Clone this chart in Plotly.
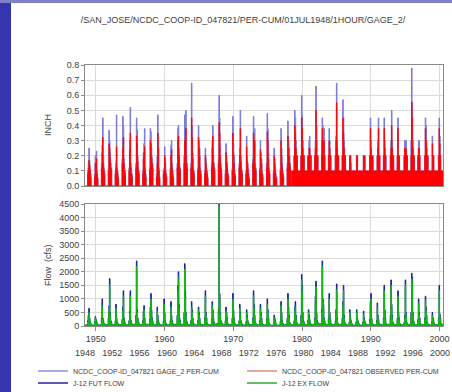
import plotly.graph_objects as go

# ---------------- data ----------------
water_years = list(range(1949, 2001))                     # Jul(N-1) .. Jun(N)
wet_months = ["Nov", "Dec", "Jan", "Feb", "Mar", "Apr"]   # months with values per water year

# NCDC_COOP-ID_047821 GAGE_2 PER-CUM (inch), [Nov..Apr] per water year
gage2_per_cum = [
    [0.10, 0.15, 0.25, 0.17, 0.12, 0.08], [0.08, 0.20, 0.12, 0.23, 0.10, 0.06], [0.15, 0.27, 0.45, 0.20, 0.12, 0.10],
    [0.12, 0.37, 0.30, 0.22, 0.15, 0.12], [0.10, 0.15, 0.47, 0.12, 0.10, 0.06], [0.18, 0.46, 0.40, 0.18, 0.12, 0.10],
    [0.12, 0.30, 0.52, 0.15, 0.10, 0.08], [0.15, 0.45, 0.37, 0.20, 0.12, 0.10], [0.10, 0.22, 0.28, 0.38, 0.12, 0.08],
    [0.12, 0.38, 0.36, 0.25, 0.18, 0.15], [0.08, 0.20, 0.47, 0.33, 0.12, 0.06], [0.10, 0.12, 0.26, 0.18, 0.10, 0.08],
    [0.12, 0.27, 0.30, 0.15, 0.10, 0.06], [0.15, 0.38, 0.40, 0.25, 0.15, 0.12], [0.20, 0.47, 0.35, 0.50, 0.20, 0.15],
    [0.15, 0.68, 0.40, 0.22, 0.12, 0.10], [0.12, 0.40, 0.30, 0.25, 0.12, 0.10], [0.10, 0.25, 0.18, 0.12, 0.10, 0.06],
    [0.15, 0.30, 0.40, 0.20, 0.15, 0.12], [0.18, 0.60, 0.45, 0.25, 0.15, 0.10], [0.10, 0.28, 0.20, 0.15, 0.10, 0.08],
    [0.12, 0.46, 0.28, 0.20, 0.10, 0.08], [0.15, 0.25, 0.50, 0.20, 0.12, 0.10], [0.10, 0.33, 0.20, 0.15, 0.10, 0.06],
    [0.18, 0.46, 0.38, 0.38, 0.15, 0.12], [0.12, 0.30, 0.22, 0.18, 0.10, 0.08], [0.15, 0.48, 0.38, 0.22, 0.12, 0.10],
    [0.10, 0.25, 0.18, 0.12, 0.08, 0.06], [0.12, 0.38, 0.25, 0.15, 0.10, 0.08], [0.15, 0.43, 0.30, 0.25, 0.20, 0.15],
    [0.20, 0.50, 0.45, 0.30, 0.20, 0.20], [0.20, 0.60, 0.47, 0.30, 0.20, 0.20], [0.20, 0.20, 0.30, 0.33, 0.20, 0.20],
    [0.20, 0.30, 0.66, 0.40, 0.20, 0.20], [0.30, 0.45, 0.40, 0.30, 0.38, 0.20], [0.20, 0.38, 0.30, 0.20, 0.20, 0.10],
    [0.20, 0.33, 0.68, 0.30, 0.20, 0.20], [0.20, 0.57, 0.45, 0.30, 0.20, 0.20], [0.10, 0.20, 0.20, 0.15, 0.10, 0.10],
    [0.10, 0.20, 0.20, 0.10, 0.10, 0.10], [0.10, 0.20, 0.15, 0.20, 0.10, 0.10], [0.20, 0.45, 0.30, 0.20, 0.10, 0.20],
    [0.10, 0.20, 0.30, 0.45, 0.20, 0.20], [0.20, 0.45, 0.30, 0.20, 0.20, 0.10], [0.20, 0.30, 0.50, 0.30, 0.20, 0.20],
    [0.20, 0.45, 0.20, 0.20, 0.10, 0.10], [0.20, 0.30, 0.20, 0.30, 0.20, 0.20], [0.30, 0.78, 0.56, 0.30, 0.20, 0.20],
    [0.20, 0.30, 0.30, 0.20, 0.10, 0.10], [0.20, 0.45, 0.40, 0.30, 0.20, 0.20], [0.10, 0.33, 0.20, 0.20, 0.10, 0.10],
    [0.20, 0.45, 0.33, 0.20, 0.10, 0.10],
]

# NCDC_COOP-ID_047821 OBSERVED PER-CUM (inch)
observed_per_cum = [
    [0.08, 0.12, 0.17, 0.14, 0.10, 0.06], [0.06, 0.15, 0.10, 0.18, 0.08, 0.05], [0.12, 0.22, 0.32, 0.15, 0.10, 0.08],
    [0.10, 0.28, 0.25, 0.18, 0.12, 0.10], [0.08, 0.12, 0.26, 0.10, 0.08, 0.05], [0.15, 0.25, 0.32, 0.15, 0.10, 0.08],
    [0.10, 0.24, 0.35, 0.12, 0.08, 0.06], [0.12, 0.33, 0.28, 0.16, 0.10, 0.08], [0.08, 0.18, 0.22, 0.26, 0.10, 0.06],
    [0.10, 0.30, 0.28, 0.20, 0.15, 0.12], [0.06, 0.15, 0.35, 0.25, 0.10, 0.05], [0.08, 0.10, 0.20, 0.15, 0.08, 0.06],
    [0.10, 0.20, 0.24, 0.12, 0.08, 0.05], [0.12, 0.30, 0.33, 0.20, 0.12, 0.10], [0.15, 0.30, 0.28, 0.38, 0.15, 0.12],
    [0.12, 0.45, 0.32, 0.18, 0.10, 0.08], [0.10, 0.32, 0.25, 0.20, 0.10, 0.08], [0.08, 0.20, 0.15, 0.10, 0.08, 0.05],
    [0.12, 0.25, 0.33, 0.16, 0.12, 0.10], [0.15, 0.42, 0.35, 0.20, 0.12, 0.08], [0.08, 0.22, 0.16, 0.12, 0.08, 0.06],
    [0.10, 0.35, 0.22, 0.15, 0.08, 0.06], [0.12, 0.20, 0.38, 0.16, 0.10, 0.08], [0.08, 0.26, 0.16, 0.12, 0.08, 0.05],
    [0.15, 0.35, 0.30, 0.30, 0.12, 0.10], [0.10, 0.24, 0.18, 0.15, 0.08, 0.06], [0.12, 0.36, 0.30, 0.18, 0.10, 0.08],
    [0.08, 0.20, 0.15, 0.10, 0.06, 0.05], [0.10, 0.30, 0.20, 0.12, 0.08, 0.06], [0.12, 0.33, 0.25, 0.20, 0.15, 0.12],
    [0.20, 0.40, 0.35, 0.25, 0.15, 0.20], [0.20, 0.45, 0.38, 0.25, 0.20, 0.20], [0.20, 0.20, 0.25, 0.25, 0.10, 0.20],
    [0.20, 0.25, 0.50, 0.30, 0.20, 0.20], [0.20, 0.38, 0.30, 0.25, 0.30, 0.20], [0.20, 0.30, 0.25, 0.20, 0.10, 0.10],
    [0.20, 0.30, 0.55, 0.25, 0.20, 0.20], [0.20, 0.45, 0.35, 0.25, 0.20, 0.20], [0.10, 0.20, 0.20, 0.10, 0.10, 0.10],
    [0.10, 0.20, 0.20, 0.10, 0.10, 0.10], [0.10, 0.20, 0.10, 0.20, 0.10, 0.10], [0.20, 0.38, 0.25, 0.20, 0.10, 0.20],
    [0.10, 0.20, 0.25, 0.38, 0.20, 0.20], [0.20, 0.38, 0.25, 0.20, 0.10, 0.10], [0.20, 0.25, 0.40, 0.25, 0.20, 0.20],
    [0.20, 0.38, 0.20, 0.20, 0.10, 0.10], [0.20, 0.25, 0.20, 0.25, 0.20, 0.20], [0.20, 0.55, 0.45, 0.25, 0.20, 0.20],
    [0.20, 0.25, 0.25, 0.20, 0.10, 0.10], [0.20, 0.38, 0.30, 0.25, 0.20, 0.20], [0.10, 0.28, 0.20, 0.20, 0.10, 0.10],
    [0.20, 0.38, 0.28, 0.20, 0.10, 0.10],
]

# value in the remaining months of each water year (inch)
dry_base_inch = [
    0.0, 0.0, 0.0, 0.0, 0.0, 0.0, 0.0, 0.0, 0.0, 0.0, 0.0, 0.0, 0.0, 0.0, 0.0, 0.0, 0.0, 0.0,
    0.0, 0.0, 0.0, 0.0, 0.0, 0.0, 0.0, 0.0, 0.0, 0.0, 0.0, 0.0, 0.1, 0.1, 0.1, 0.1, 0.1, 0.1,
    0.1, 0.1, 0.1, 0.1, 0.1, 0.1, 0.1, 0.1, 0.1, 0.1, 0.1, 0.1, 0.1, 0.1, 0.1, 0.1,
]

# J-12 FUT FLOW (cfs), [Nov..Apr] per water year
fut_flow = [
    [200, 400, 650, 300, 150, 100], [150, 350, 250, 200, 100, 80], [300, 1000, 300, 200, 100, 80],
    [300, 750, 1750, 500, 200, 150], [200, 800, 300, 150, 100, 80], [250, 700, 1300, 300, 150, 100],
    [200, 550, 1300, 200, 100, 80], [400, 2400, 600, 300, 150, 100], [200, 550, 750, 300, 100, 80],
    [250, 700, 1200, 600, 300, 200], [150, 700, 400, 200, 100, 80], [200, 1000, 500, 200, 100, 80],
    [200, 900, 400, 200, 100, 80], [400, 1500, 2000, 800, 300, 200], [500, 2300, 1300, 500, 200, 150],
    [200, 900, 600, 300, 100, 80], [200, 700, 500, 300, 100, 80], [300, 1300, 500, 300, 100, 80],
    [250, 900, 600, 300, 150, 100], [600, 4500, 1200, 500, 200, 150], [200, 700, 500, 300, 100, 80],
    [300, 1200, 600, 300, 100, 80], [200, 800, 500, 200, 100, 80], [150, 600, 400, 200, 100, 80],
    [300, 1300, 800, 400, 150, 100], [200, 800, 500, 300, 100, 80], [250, 1000, 600, 300, 100, 80],
    [100, 400, 300, 200, 100, 60], [200, 900, 500, 200, 100, 80], [300, 1200, 700, 400, 150, 100],
    [200, 700, 900, 400, 150, 100], [400, 1900, 1500, 500, 200, 150], [200, 600, 400, 250, 100, 80],
    [300, 1100, 1650, 500, 200, 150], [600, 2400, 1000, 800, 300, 200], [300, 1200, 500, 300, 100, 80],
    [200, 600, 1550, 300, 100, 80], [300, 900, 1500, 400, 150, 100], [150, 600, 300, 200, 100, 80],
    [150, 600, 300, 200, 100, 80], [150, 550, 300, 200, 100, 80], [250, 900, 1200, 300, 100, 80],
    [200, 850, 400, 250, 100, 80], [300, 1500, 600, 300, 100, 80], [400, 1700, 800, 400, 150, 100],
    [300, 1300, 500, 300, 100, 80], [150, 400, 1700, 500, 150, 100], [500, 1950, 1800, 500, 200, 150],
    [250, 1000, 500, 300, 100, 80], [300, 1100, 700, 400, 150, 100], [150, 500, 300, 200, 100, 80],
    [300, 1500, 450, 300, 100, 80],
]

# J-12 EX FLOW (cfs)
ex_flow = [
    [150, 350, 500, 250, 120, 80], [120, 300, 200, 150, 80, 60], [250, 750, 250, 150, 80, 60],
    [250, 600, 1500, 400, 150, 120], [150, 650, 250, 120, 80, 60], [200, 550, 1100, 250, 120, 80],
    [150, 450, 1100, 150, 80, 60], [300, 2200, 500, 250, 120, 80], [150, 450, 600, 250, 80, 60],
    [200, 550, 1000, 500, 250, 150], [120, 550, 300, 150, 80, 60], [150, 800, 400, 150, 80, 60],
    [150, 700, 300, 150, 80, 60], [300, 1300, 1800, 650, 250, 150], [400, 2100, 1100, 400, 150, 120],
    [150, 700, 500, 250, 80, 60], [150, 600, 400, 250, 80, 60], [250, 1100, 400, 250, 80, 60],
    [200, 750, 500, 250, 120, 80], [500, 4450, 1000, 400, 150, 120], [150, 550, 400, 250, 80, 60],
    [250, 1000, 500, 250, 80, 60], [150, 650, 400, 150, 80, 60], [120, 500, 300, 150, 80, 60],
    [250, 1100, 650, 300, 120, 80], [150, 650, 400, 250, 80, 60], [200, 800, 500, 250, 80, 60],
    [80, 300, 250, 150, 80, 50], [150, 750, 400, 150, 80, 60], [250, 1000, 550, 300, 120, 80],
    [150, 550, 700, 300, 120, 80], [300, 1700, 1300, 400, 150, 120], [150, 500, 300, 200, 80, 60],
    [250, 900, 1450, 400, 150, 120], [500, 2200, 850, 650, 250, 150], [250, 1000, 400, 250, 80, 60],
    [150, 500, 1350, 250, 80, 60], [250, 750, 1300, 300, 120, 80], [120, 500, 250, 150, 80, 60],
    [120, 500, 250, 150, 80, 60], [120, 450, 250, 150, 80, 60], [200, 750, 1000, 250, 80, 60],
    [150, 700, 300, 200, 80, 60], [250, 1300, 500, 250, 80, 60], [300, 1500, 650, 300, 120, 80],
    [250, 1100, 400, 250, 80, 60], [120, 300, 1500, 400, 120, 80], [400, 1750, 1600, 400, 150, 120],
    [200, 850, 400, 250, 80, 60], [250, 950, 550, 300, 120, 80], [120, 400, 250, 150, 80, 60],
    [250, 1300, 350, 250, 80, 60],
]

dry_base_cfs = [
    40, 30, 40, 50, 40, 50, 40, 60, 40, 60, 40, 40, 40, 60, 60, 40, 40, 50,
    40, 80, 40, 50, 40, 30, 50, 40, 40, 20, 30, 50, 40, 60, 40, 60, 80, 50,
    50, 60, 30, 30, 30, 40, 40, 50, 60, 50, 50, 60, 50, 50, 40, 50,
]

decade_ticks = [1950, 1960, 1970, 1980, 1990, 2000]
four_year_ticks = [1948, 1952, 1956, 1960, 1964, 1968, 1972, 1976, 1980, 1984, 1988, 1992, 1996, 2000]

title_text = "/SAN_JOSE/NCDC_COOP-ID_047821/PER-CUM/01JUL1948/1HOUR/GAGE_2/"
series_names = [
    "NCDC_COOP-ID_047821 GAGE_2 PER-CUM",
    "NCDC_COOP-ID_047821 OBSERVED PER-CUM",
    "J-12 FUT FLOW",
    "J-12 EX FLOW",
]


# ---------------- build monthly series ----------------
def monthly(wet_vals, base_vals):
    xs, ys = [], []
    for wy, wv, b in zip(water_years, wet_vals, base_vals):
        for m in range(12):  # Jul .. Jun
            xs.append(wy - 1 + (6 + m) / 12.0)
            k = m - 4  # Nov -> 0
            ys.append(wv[k] if 0 <= k < len(wet_months) else b)
    xs.append(water_years[-1] + 0.5)
    ys.append(ys[-1])
    return xs, ys


x_g, y_g = monthly(gage2_per_cum, dry_base_inch)
x_o, y_o = monthly(observed_per_cum, dry_base_inch)
x_f, y_f = monthly(fut_flow, dry_base_cfs)
x_e, y_e = monthly(ex_flow, dry_base_cfs)

C_LAV = "#8c8ce6"
C_RED = "#ff0000"
C_BLUE = "#1c1ca8"
C_GREEN = "#10b810"
LEG_COLORS = ["#8f8fe0", "#e08a8a", "#24249c", "#33a833"]

fig = go.Figure()

fig.add_trace(go.Scatter(x=x_g, y=y_g, mode="lines", line=dict(shape="hv", color="#7a7ada", width=1),
                         fill="tozeroy", fillcolor=C_LAV, showlegend=False, xaxis="x", yaxis="y"))
fig.add_trace(go.Scatter(x=x_o, y=y_o, mode="lines", line=dict(shape="hv", color=C_RED, width=0.8),
                         fill="tozeroy", fillcolor=C_RED, showlegend=False, xaxis="x", yaxis="y"))
fig.add_trace(go.Scatter(x=x_f, y=y_f, mode="lines", line=dict(shape="hv", color=C_BLUE, width=1),
                         fill="tozeroy", fillcolor=C_BLUE, showlegend=False, xaxis="x2", yaxis="y2"))
fig.add_trace(go.Scatter(x=x_e, y=y_e, mode="lines", line=dict(shape="hv", color=C_GREEN, width=1),
                         fill="tozeroy", fillcolor=C_GREEN, showlegend=False, xaxis="x2", yaxis="y2"))

# legend entries (line samples); attached to the secondary year axis so it is drawn
for i, (nm, col) in enumerate(zip(series_names, LEG_COLORS)):
    fig.add_trace(go.Scatter(x=[None], y=[None], mode="lines", name=nm,
                             line=dict(color=col, width=1.5),
                             legend="legend" if i < 2 else "legend2",
                             xaxis="x3", yaxis="y2"))

FONT = "Liberation Sans, Arial, sans-serif"
TICK_FONT = dict(family=FONT, size=9, color="#404040")
GRID = "#dcdcdc"
AX_LINE = "#8a8a8a"

# pixel geometry helpers (figure 452 x 392, plot area x 85..443, y 65..326)
L, R, T, B = 85, 9, 65, 66
W, H = 452, 392
PW, PH = W - L - R, H - T - B


def px(xp):
    return (xp - L) / PW


def py(yp):
    return (H - B - yp) / PH


xrange_ = [1948.45, 2000.5]
xrange_4yr = [1948.0, 2000.44]

common_x = dict(range=xrange_, tickmode="array", tickvals=decade_ticks, showgrid=True, gridcolor=GRID,
                gridwidth=1, showline=True, linecolor=AX_LINE, linewidth=1, mirror=True, zeroline=False)

fig.update_layout(
    width=W, height=H,
    margin=dict(l=L, r=R, t=T, b=B, autoexpand=False),
    paper_bgcolor="#3535b0",
    plot_bgcolor="white",
    font=dict(family=FONT, size=9, color="#404040"),
    title=dict(text=title_text, x=243 / W, xanchor="center", y=1 - 20 / H, yanchor="middle",
               font=dict(family=FONT, size=9, color="#404040")),
    xaxis=dict(**common_x, domain=[0, 1], anchor="y", showticklabels=False, ticks=""),
    yaxis=dict(domain=[py(186), 1.0], range=[0, 0.8], dtick=0.1, tickformat=".1f", ticks="outside",
               ticklen=3, tickcolor=AX_LINE, showgrid=True, gridcolor=GRID, showline=True, linecolor=AX_LINE,
               mirror=True, zeroline=False, tickfont=TICK_FONT, anchor="x"),
    xaxis2=dict(**common_x, domain=[0, 1], anchor="y2", matches="x", ticks="outside", ticklen=4,
                tickcolor=AX_LINE, tickfont=TICK_FONT, tickformat="d"),
    xaxis3=dict(range=xrange_4yr, overlaying="x2", anchor="y2", side="bottom", tickmode="array",
                tickvals=four_year_ticks, ticks="outside", ticklen=18, tickcolor="rgba(0,0,0,0)",
                showgrid=False, showline=False, zeroline=False, tickfont=TICK_FONT, tickformat="d"),
    yaxis2=dict(domain=[0, py(204)], range=[0, 4500], dtick=500, ticks="outside", ticklen=3,
                tickcolor=AX_LINE, showgrid=True, gridcolor=GRID, showline=True, linecolor=AX_LINE,
                mirror=True, zeroline=False, tickfont=TICK_FONT, anchor="x2"),
    legend=dict(orientation="h", x=px(33), xanchor="left", y=py(371), yanchor="middle",
                entrywidth=164, entrywidthmode="pixels", font=dict(family=FONT, size=7, color="#404040"),
                bgcolor="rgba(0,0,0,0)", itemwidth=30),
    legend2=dict(orientation="h", x=px(33), xanchor="left", y=py(383), yanchor="middle",
                 entrywidth=164, entrywidthmode="pixels", font=dict(family=FONT, size=7, color="#404040"),
                 bgcolor="rgba(0,0,0,0)", itemwidth=30),
    showlegend=True,
)

shapes = [
    dict(type="rect", xref="paper", yref="paper", x0=px(11), x1=px(W + 5), y0=py(H + 5), y1=py(3),
         fillcolor="white", line=dict(width=0), layer="below"),
    dict(type="rect", xref="paper", yref="paper", x0=px(-5), x1=px(W + 5), y0=py(3), y1=py(-5),
         fillcolor="#8080c8", line=dict(width=0), layer="below"),
]
fig.update_layout(shapes=shapes)

annotations = [
    dict(text="INCH", xref="paper", yref="paper", x=px(48), y=py(125), textangle=-90, showarrow=False,
         font=dict(family=FONT, size=9, color="#404040"), xanchor="center", yanchor="middle"),
    dict(text="Flow  (cfs)", xref="paper", yref="paper", x=px(48), y=py(265), textangle=-90, showarrow=False,
         font=dict(family=FONT, size=9, color="#404040"), xanchor="center", yanchor="middle"),
]
fig.update_layout(annotations=annotations)

fig.write_html("out.html", config={"displayModeBar": False},
               post_script="document.body.style.margin='0';document.body.style.overflow='hidden';")
